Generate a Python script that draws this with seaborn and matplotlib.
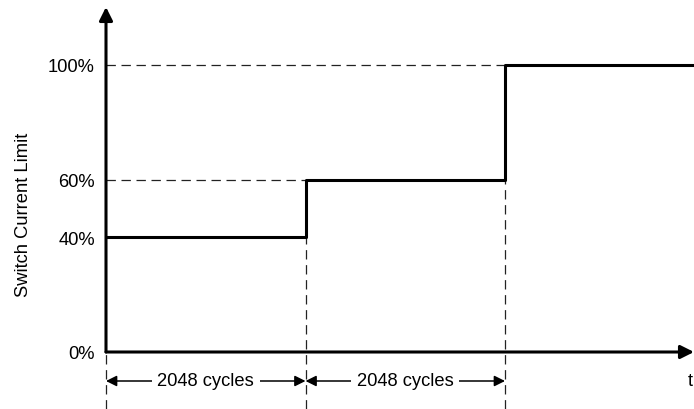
import matplotlib
matplotlib.use("Agg")
import matplotlib.pyplot as plt
import seaborn as sns
import pandas as pd

# ---- data ----
cycle_edges = [0, 2048, 4096, 6036]        # time in switching cycles
limit_pct = [40, 60, 100, 100]              # switch current limit (%)
ytick_values = [0, 40, 60, 100]
ytick_labels = ["0%", "40%", "60%", "100%"]
interval_label = "2048 cycles"
intervals = [(0, 2048), (2048, 4096)]
y_label = "Switch Current Limit"
x_label = "t"

sns.set_style("white")
plt.rcParams["font.family"] = ["Liberation Sans", "DejaVu Sans"]
FS = 13.2

fig = plt.figure(figsize=(6.94, 4.10), dpi=100)
W, H = 694, 410
ax = fig.add_axes([106 / W, 57 / H, 588 / W, 345 / H])
ax.set_xlim(0, 6036)
ax.set_ylim(0, 100 * 345 / 287)
for s in ax.spines.values():
    s.set_visible(False)

df = pd.DataFrame({"cycles": cycle_edges, "limit": limit_pct})
sns.lineplot(data=df, x="cycles", y="limit", drawstyle="steps-post",
             color="black", lw=2.2, ax=ax, clip_on=False, zorder=4)

ybot = -100 * 57 / 287
dash = (0, (7.5, 4.5))
dcol = "#222222"
# horizontal guides
ax.hlines(limit_pct[1], 0, cycle_edges[1], colors=dcol, lw=0.9, linestyles=[dash], zorder=2)
ax.hlines(limit_pct[2], 0, cycle_edges[2], colors=dcol, lw=0.9, linestyles=[dash], zorder=2)
# vertical guides
ax.vlines(cycle_edges[0], ybot, 0, colors=dcol, lw=0.9, linestyles=[dash], clip_on=False, zorder=2)
ax.vlines(cycle_edges[1], ybot, limit_pct[1], colors=dcol, lw=0.9, linestyles=[dash], clip_on=False, zorder=2)
ax.vlines(cycle_edges[2], ybot, limit_pct[2], colors=dcol, lw=0.9, linestyles=[dash], clip_on=False, zorder=2)

# axis arrows
ax.annotate("", xy=(0, 1), xytext=(0, 0), xycoords="axes fraction",
            arrowprops=dict(arrowstyle="-|>", lw=2.2, color="black",
                            mutation_scale=20, shrinkA=0, shrinkB=0),
            annotation_clip=False, zorder=5)
ax.annotate("", xy=(1, 0), xytext=(0, 0), xycoords="axes fraction",
            arrowprops=dict(arrowstyle="-|>", lw=2.2, color="black",
                            mutation_scale=20, shrinkA=0, shrinkB=0),
            annotation_clip=False, zorder=5)

# interval dimension arrows
ya = -100 * 29 / 287
for a, b in intervals:
    ax.annotate("", xy=(a, ya), xytext=(b, ya), xycoords="data",
                arrowprops=dict(arrowstyle="<|-|>", lw=1.1, color="black",
                                mutation_scale=16, shrinkA=0, shrinkB=0),
                annotation_clip=False, zorder=3)
    ax.text((a + b) / 2, ya, interval_label, ha="center", va="center",
            fontsize=FS, color="black", zorder=6, clip_on=False,
            bbox=dict(boxstyle="square,pad=0.3", fc="white", ec="none"))

ax.text((690 - 106) / 199.5 * 2048, ya, x_label, ha="center", va="center",
        fontsize=FS, color="black", clip_on=False)

ax.set_xticks([])
ax.set_yticks(ytick_values, ytick_labels)
ax.tick_params(axis="y", length=0, pad=8, labelsize=FS, labelcolor="black")
ax.set_xlabel("")
ax.set_ylabel(y_label, fontsize=FS, color="black", va="center")
ax.yaxis.set_label_coords(-82 / 588, (353 - 215) / 345)

fig.savefig("out.png", dpi=100)
